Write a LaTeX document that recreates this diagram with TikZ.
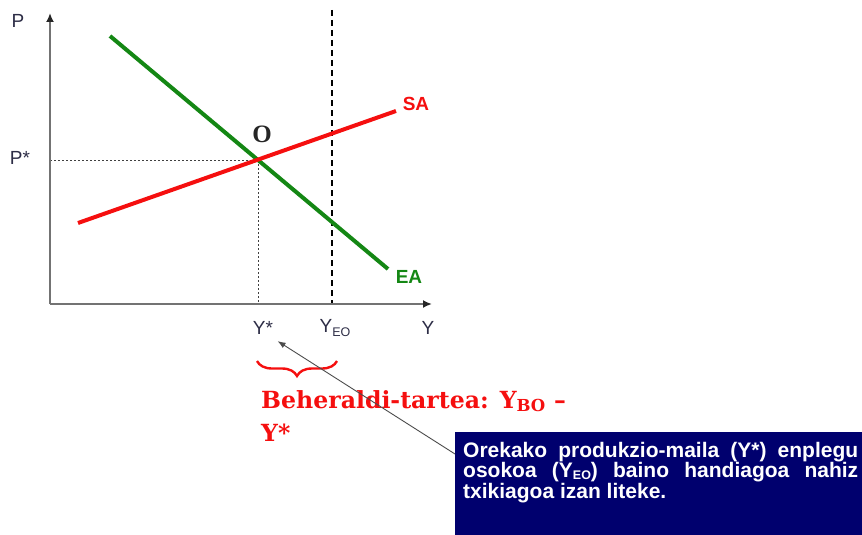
\documentclass[tikz,border=0pt]{standalone}
\usepackage{fontspec}
\setmainfont{Liberation Sans}
\newfontfamily\slabfont{DejaVu Serif}
\newfontfamily\timesfont{Liberation Serif}
\usetikzlibrary{arrows.meta,decorations.pathreplacing,calc}
\definecolor{boxnavy}{RGB}{0,0,110}
\definecolor{eagreen}{RGB}{20,135,20}
\definecolor{sared}{RGB}{245,15,15}
\definecolor{axgray}{RGB}{115,115,115}
\definecolor{labcol}{RGB}{45,45,70}
\newcommand{\lowsub}[2]{\raisebox{-#1}{\fontsize{12.5}{13}\selectfont #2}}
\tikzset{
  axisline/.style={axgray, line width=2.2, -{Latex[length=9,width=8,color=black!85]}},
  dotline/.style={black!75, line width=1, dash pattern=on 2.2 off 1.8},
  dashline/.style={black, line width=1.5, dash pattern=on 6 off 4},
  curve/.style={line width=4},
  lab/.style={labcol, font=\fontsize{19}{21}\selectfont},
  curvelab/.style={font=\bfseries\fontsize{19}{21}\selectfont},
  pointer/.style={black!70, line width=0.9, -{Latex[length=8,width=6]}},
  bracestyle/.style={sared, line width=2.4, decorate, decoration={brace, mirror, amplitude=15}},
}
\begin{document}
\begin{tikzpicture}[x=1pt,y=-1pt]
\useasboundingbox (0,0) rectangle (862,535);
% axes and guide lines
\coordinate (orig) at (50,304);
\coordinate (ytop) at (50,13);
\coordinate (xend) at (432,304);
\coordinate (pstar) at (50,160);
\coordinate (eq) at (258,160);
\coordinate (ystarax) at (258,304);
\coordinate (yeotop) at (332,10);
\coordinate (yeoax) at (332,304);
\coordinate (ea1) at (110,36);
\coordinate (ea2) at (388,269);
\coordinate (sa1) at (78,223);
\coordinate (sa2) at (396,111);
\draw[dotline] (pstar) -- (eq) -- (ystarax);
\draw[dashline] (yeotop) -- (yeoax);
\draw[axisline] (orig) -- (ytop);
\draw[axisline] (orig) -- (xend);
\draw[curve, eagreen] (ea1) -- (ea2);
\draw[curve, sared] (sa1) -- (sa2);
% labels
\node[lab] (plab) at (18,21) {P};
\node[lab] (pslab) at (20,158) {P*};
\node[lab] (ystar) at (263,328) {Y*};
\node[lab] (yeo) at (335,328) {Y\lowsub{4pt}{EO}};
\node[lab] (ylab) at (428,328) {Y};
\node[curvelab, sared] (salab) at (416,104) {SA};
\node[curvelab, eagreen] (ealab) at (409,277) {EA};
\node[font=\timesfont\bfseries\fontsize{25}{27}\selectfont, black!85] (olab) at (262,134) {O};
% brace and gap text
\coordinate (brl) at (257,361);
\coordinate (brr) at (337,361);
\draw[bracestyle] (brl) -- (brr);
\node[anchor=north west, inner sep=0, align=left, sared,
      font=\slabfont\bfseries\fontsize{23.6}{33}\selectfont] (gaptext) at (261,390)
      {Beheraldi-tartea: Y\textsubscript{BO} –\\Y*};
% box
\node[fill=boxnavy, minimum width=407, minimum height=104, anchor=north west, inner sep=0] (box) at (455,432) {};
\node[anchor=north west, inner sep=0, text width=395, align=justify, white,
      font=\bfseries\fontsize{21}{20.3}\selectfont] (boxtext) at (463,442)
      {\hyphenpenalty=10000 \exhyphenpenalty=10000 \tolerance=9999 \hbadness=10000
       \lineskiplimit=-20pt \lineskip=0pt
       Orekako produkzio-maila (Y*) enplegu osokoa (Y\lowsub{2pt}{EO}) baino handiagoa nahiz txikiagoa izan liteke.};
\draw[pointer] ($(box.north west)+(0,22)$) -- ($(ystar.south east)+(1,3)$);
\end{tikzpicture}
\end{document}
